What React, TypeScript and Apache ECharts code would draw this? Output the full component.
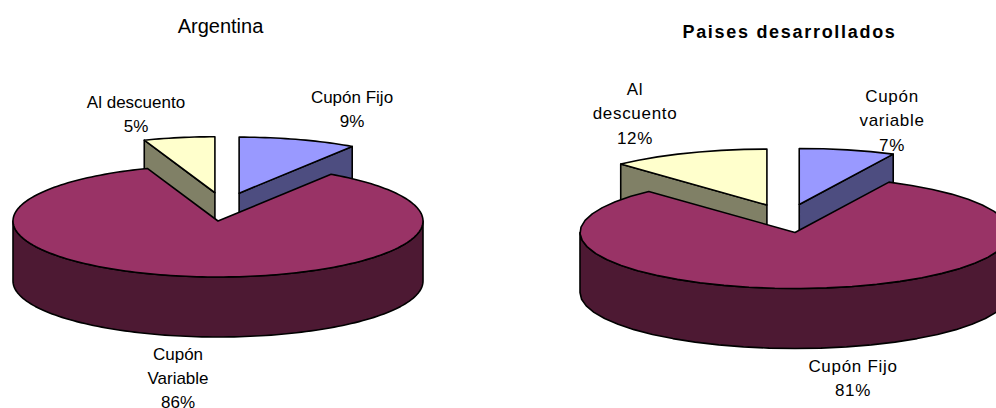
import React, { useEffect, useRef } from "react";
import * as echarts from "echarts";

const leftTitle = "Argentina";
const rightTitle = "Paises desarrollados";
const leftCategories = ["Cupón Fijo", "Cupón\nVariable", "Al descuento"];
const rightCategories = ["Cupón\nvariable", "Cupón Fijo", "Al\ndescuento"];
const leftValues = [9.3, 85.1, 5.6];
const rightValues = [7.2, 80.9, 11.9];
const leftPercentLabels = ["9%", "86%", "5%"];
const rightPercentLabels = ["7%", "81%", "12%"];

const topColors = ["#9999FF", "#993366", "#FFFFCC"];
const sideColors = ["#4D4D80", "#4D1933", "#808066"];
const drawOrder = [3, 5, 4]; // the large slice is painted last, as it hides the walls of the others

const rad = (d: number) => (d * Math.PI) / 180;

function pieSeries(values: number[], g: any) {
  const total = values.reduce((a, b) => a + b, 0);
  const starts: number[] = [];
  let acc = 0;
  values.forEach((v) => {
    starts.push((acc / total) * 360);
    acc += v;
  });
  const dir = (i: number) => {
    const m = rad(starts[i] + (values[i] / total) * 180);
    return [g.rx * Math.sin(m) * g.explode, -g.ry * Math.cos(m) * g.explode];
  };
  const anchor = dir(1);
  return {
    type: "custom",
    coordinateSystem: "none",
    silent: true,
    clip: false,
    data: values,
    renderItem: (params: any, api: any) => {
      const i = params.dataIndex;
      const a0 = starts[i];
      const a1 = a0 + (api.value(0) / total) * 360;
      const d = dir(i);
      const cx = g.cx + d[0] - anchor[0];
      const cy = g.cy + d[1] - anchor[1];
      const pt = (a: number, dy = 0) => [
        cx + g.rx * Math.sin(rad(a)),
        cy - g.ry * Math.cos(rad(a)) + dy,
      ];
      const arc = (from: number, to: number, dy = 0) => {
        const n = Math.max(1, Math.ceil((to - from) / g.step));
        const out: number[][] = [];
        for (let k = 0; k <= n; k++) out.push(pt(from + ((to - from) * k) / n, dy));
        return out;
      };
      const line = { stroke: "#000", lineWidth: g.lineWidth, lineJoin: "round" };
      const z2 = drawOrder[i] * 10;
      const children: any[] = [];
      const wall = (a: number) => ({
        type: "polygon",
        z2,
        shape: {
          points: [[cx, cy], pt(a), pt(a, g.depth), [cx, cy + g.depth]],
        },
        style: { fill: sideColors[i], ...line },
      });
      if (Math.sin(rad(a1)) > 0 && a1 < 180) children.push(wall(a1));
      if (a0 > 180) children.push(wall(a0));
      const r0 = Math.max(a0, 90);
      const r1 = Math.min(a1, 270);
      if (r1 > r0) {
        children.push({
          type: "polygon",
          z2,
          shape: { points: [...arc(r0, r1), ...arc(r0, r1, g.depth).reverse()] },
          style: { fill: sideColors[i], ...line },
        });
      }
      children.push({
        type: "polygon",
        z2: z2 + 1,
        shape: { points: [[cx, cy], ...arc(a0, a1)] },
        style: { fill: topColors[i], ...line },
      });
      return { type: "group", children };
    },
  };
}

const labelFont = '17px "Liberation Sans", Arial, sans-serif';

function label(x: number, y: number, text: string, lineHeight: number) {
  return {
    type: "text",
    x,
    y,
    silent: true,
    style: {
      text,
      font: labelFont,
      fill: "#000",
      align: "center",
      verticalAlign: "top",
      lineHeight,
    },
  };
}

const leftGeometry = { cx: 218, cy: 221, rx: 205, ry: 56, depth: 60, explode: 0.255, step: 1.5, lineWidth: 1.6 };
const rightGeometry = { cx: 795, cy: 232.5, rx: 215, ry: 56, depth: 60, explode: 0.255, step: 7, lineWidth: 1.6 };

// The right-hand chart's texts are set slightly wider than the font's own spacing.
const trackedTexts: [string, string][] = [
  [rightTitle, "1.7"],
  ...[...rightCategories, ...rightPercentLabels].flatMap((t) =>
    t.split("\n").map((s) => [s, "0.7"] as [string, string])
  ),
];

export default function App() {
  const ref = useRef<HTMLDivElement>(null);
  useEffect(() => {
    document.body.style.margin = "0";
    const chart = echarts.init(ref.current!, null, { renderer: "svg" });
    chart.setOption({
      animation: false,
      backgroundColor: "#fff",
      title: [
        {
          text: leftTitle,
          left: 215.5,
          top: 11,
          textAlign: "center",
          textStyle: { fontFamily: "Liberation Sans", fontWeight: "normal", fontSize: 20, color: "#000" },
        },
        {
          text: rightTitle,
          left: 784.5,
          top: 18,
          textAlign: "center",
          textStyle: { fontFamily: "Liberation Sans", fontWeight: "bold", fontSize: 18, color: "#000" },
        },
      ],
      graphic: [
        label(352, 85, `${leftCategories[0]}\n${leftPercentLabels[0]}`, 24),
        label(136, 90, `${leftCategories[2]}\n${leftPercentLabels[2]}`, 24),
        label(178, 342, `${leftCategories[1]}\n${leftPercentLabels[1]}`, 24),
        label(892, 84, `${rightCategories[0]}\n${rightPercentLabels[0]}`, 24.5),
        label(635, 77, `${rightCategories[2]}\n${rightPercentLabels[2]}`, 24.5),
        label(853, 354, `${rightCategories[1]}\n${rightPercentLabels[1]}`, 24),
      ],
      series: [pieSeries(leftValues, leftGeometry), pieSeries(rightValues, rightGeometry)],
    });
    const texts = ref.current!.querySelectorAll("text");
    const rightHalf = 498;
    texts.forEach((el) => {
      const content = el.textContent;
      const box = el.getBoundingClientRect();
      const hit = trackedTexts.find(([s]) => s === content);
      if (hit && box.left > rightHalf) el.setAttribute("letter-spacing", hit[1]);
    });
    return () => chart.dispose();
  }, []);
  return <div ref={ref} style={{ width: 996, height: 408, overflow: "hidden" }} />;
}
